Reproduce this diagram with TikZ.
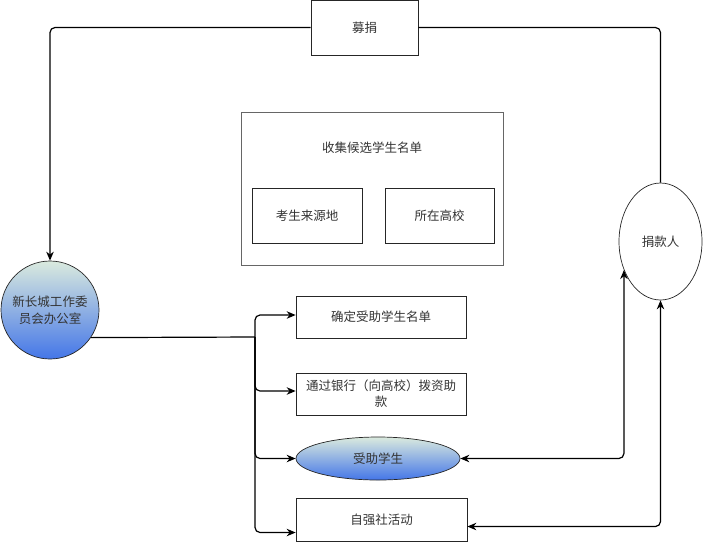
\documentclass[tikz,border=0pt]{standalone}
\usepackage{fontspec}
\setmainfont{Noto Sans CJK SC}
\usetikzlibrary{shapes.geometric,arrows.meta}
\definecolor{textgray}{RGB}{51,51,51}
\definecolor{shadetop}{RGB}{218,234,222}
\definecolor{shadebot}{RGB}{68,118,232}
\tikzset{
  boite/.style={draw=black!85,line width=0.7pt,inner sep=0pt,text=textgray,align=center,font=\fontsize{12.5}{17}\selectfont},
  degrade/.style={top color=shadetop,bottom color=shadebot},
  lien/.style={line width=1.2pt,rounded corners=5pt},
  fleche/.style={lien,-{Stealth[length=9pt,width=7.5pt]}},
  double fleche/.style={lien,{Stealth[length=9pt,width=7.5pt]}-{Stealth[length=9pt,width=7.5pt]}}
}
\begin{document}
\begin{tikzpicture}[x=1pt,y=-1pt]
		\useasboundingbox (0,0) rectangle (703,542);
		%Boîtes
		\node[boite,minimum width=107,minimum height=55] (raise) at (364.5,27.5) {募捐};
		\node[boite,draw=black!60,minimum width=262,minimum height=153] (collect) at (372,188.5) {};
		\node[text=textgray,font=\fontsize{12.5}{17}\selectfont] (collecttitle) at (372,148) {收集候选学生名单};
		\node[boite,minimum width=110,minimum height=55] (source) at (307,216) {考生来源地};
		\node[boite,minimum width=109,minimum height=55] (school) at (439.5,216) {所在高校};
		\node[boite,circle,degrade,minimum size=98] (office) at (50,310) {新长城工作委\\员会办公室};
		\node[boite,ellipse,minimum width=83,minimum height=117] (donor) at (660.5,241.5) {捐款人};
		%Etapes
		\node[boite,minimum width=170,minimum height=42] (confirm) at (381,317) {确定受助学生名单};
		\node[boite,minimum width=170,minimum height=42,font=\fontsize{12.5}{16}\selectfont] (bank) at (381,394) {通过银行（向高校）拨资助\\款};
		\node[boite,ellipse,degrade,minimum width=164,minimum height=43] (student) at (378,458.5) {受助学生};
		\node[boite,minimum width=171,minimum height=43] (activity) at (381.5,519.5) {自强社活动};
		%Liens
		\draw[fleche] (raise.west) -| (office.north);
		\draw[lien] (raise.east) -| (donor.north);
		\coordinate (bus) at (255,337);
		\draw[lien] (office.-34) -- (bus);
		\draw[fleche] (bus) |- ([yshift=2pt]confirm.west);
		\draw[fleche] (bus) |- ([yshift=3pt]bank.west);
		\draw[fleche] (bus) |- (student.west);
		\draw[fleche] (bus) |- ([yshift=-13pt]activity.west);
		\draw[double fleche] (student.east) -| (donor.-142);
		\draw[double fleche] ([yshift=-7pt]activity.east) -| (donor.south);
	\end{tikzpicture}
\end{document}
